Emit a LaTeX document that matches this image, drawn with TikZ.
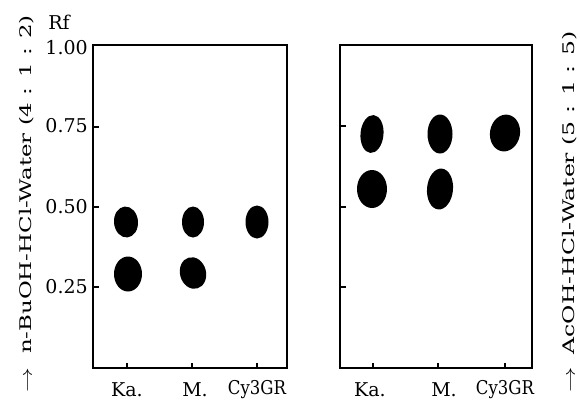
\documentclass[tikz,border=0pt]{standalone}
\usepackage{fontspec}
\setmainfont{DejaVu Serif}
\usetikzlibrary{shapes.geometric}

\begin{document}
\begin{tikzpicture}[x=1pt,y=-1pt,
		lbl/.style={font=\fontsize{19}{22}\selectfont, inner sep=0pt},
		solvent/.style={font=\fontsize{16}{19}\selectfont, rotate=90, anchor=west, inner sep=0pt},
		plate/.style={line width=2.6pt},
		tick/.style={line width=1.6pt},
		spot/.style={ellipse, fill=black, inner sep=0pt}]
			\useasboundingbox (0,0) rectangle (580,400);
			% plates
			\draw[plate] (93,45) rectangle (287,368);
			\draw[plate] (340,45) rectangle (532,368);
			\node[lbl] (rf) at (59,22) {Rf};
			\foreach \y/\r [count=\i] in {48/1.00, 126/0.75, 207/0.50, 287/0.25} \node[lbl, anchor=east] (val\i) at (88,\y) {\r};
			\foreach \y in {127, 207, 287} \draw[tick] (93,\y) -- (99,\y);
			\foreach \y in {126, 207, 287} \draw[tick] (340,\y) -- (346,\y);
			\foreach \x in {127, 192, 257} \draw[tick] (\x,368) -- (\x,363);
			\foreach \x in {373, 438, 505} \draw[tick] (\x,368) -- (\x,363);
			% lanes
			\foreach \x/\t [count=\i] in {127/Ka., 195/M., 257/\scalebox{0.87}[1]{Cy3GR}} \node[lbl] (laneA\i) at (\x,390) {\t};
			\foreach \x/\t [count=\i] in {370/Ka., 444/M., 505/\scalebox{0.87}[1]{Cy3GR}} \node[lbl] (laneB\i) at (\x,390) {\t};
			% spots, n-BuOH
			\node[spot, minimum width=24pt, minimum height=31pt, rotate=5] (kaA1) at (126,222) {};
			\node[spot, minimum width=28pt, minimum height=35pt] (kaA2) at (128,274) {};
			\node[spot, minimum width=22pt, minimum height=31pt] (mA1) at (193,222) {};
			\node[spot, minimum width=26pt, minimum height=32pt, rotate=15] (mA2) at (193,273) {};
			\node[spot, minimum width=23pt, minimum height=33pt] (cyA1) at (257,222) {};
			% spots, AcOH
			\node[spot, minimum width=23pt, minimum height=38pt, rotate=-5] (kaB1) at (372,134) {};
			\node[spot, minimum width=30pt, minimum height=38pt] (kaB2) at (372,189) {};
			\node[spot, minimum width=25pt, minimum height=39pt] (mB1) at (440,134) {};
			\node[spot, minimum width=26pt, minimum height=41pt, rotate=-5] (mB2) at (440,189) {};
			\node[spot, minimum width=30pt, minimum height=37pt, rotate=-10] (cyB1) at (505,133) {};
			% solvents
			\node[solvent] (solvA) at (27,393) {\scalebox{1.43}[1]{$\rightarrow$\hspace{10pt}n-BuOH-HCl-Water (4 : 1 : 2)}};
			\node[solvent] (solvB) at (570,393) {\scalebox{1.47}[1]{$\rightarrow$\hspace{9pt}AcOH-HCl-Water (5 : 1 : 5)}};
		\end{tikzpicture}
\end{document}
